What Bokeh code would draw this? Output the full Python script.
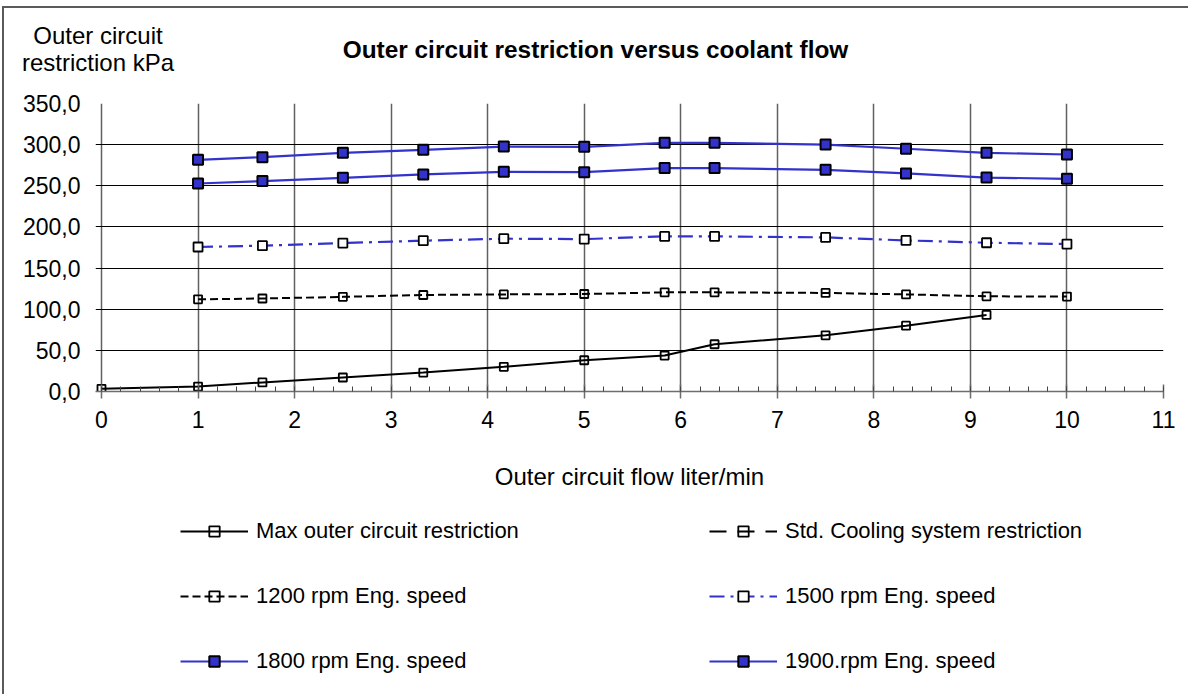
from bokeh.plotting import figure
from bokeh.layouts import column
from bokeh.models import Range1d, FixedTicker, Label, Legend, LegendItem
from bokeh.embed import file_html
from bokeh.resources import INLINE

# ---------------- data ----------------
flow = [0, 1, 1.667, 2.5, 3.333, 4.167, 5, 5.833, 6.35, 7.5, 8.333, 9.167, 10]
max_flow = flow[:12]
rpm_flow = flow[1:]
std_flow = []

max_restriction = [3.2, 6, 11, 17, 23, 30, 38, 43.7, 57.4, 68.3, 80, 93]
std_restriction = []
rpm1200 = [112, 113, 115, 117.3, 118, 118.5, 120.5, 120.5, 119.8, 118, 115.7, 115.3]
rpm1500 = [175.6, 177.2, 180.4, 183.3, 185.7, 185.2, 188.5, 188.5, 187.3, 183.6, 180.8, 179.2]
rpm1800 = [252.8, 255.7, 259.7, 263.8, 267, 266.6, 271.5, 271.5, 269.4, 265, 260, 258.5]
rpm1900 = [281.5, 284.8, 290, 293.7, 297.7, 297.3, 302.2, 302.2, 300.1, 295, 290, 288]

x_ticks = list(range(0, 12))
x_grid_ticks = list(range(0, 11))
y_ticks = [0, 50, 100, 150, 200, 250, 300, 350]
y_tick_labels = ["0,0", "50,0", "100,0", "150,0", "200,0", "250,0", "300,0", "350,0"]

title_text = "Outer circuit restriction versus coolant flow"
ylabel_lines = ["Outer circuit", "restriction kPa"]
xlabel_text = "Outer circuit flow liter/min"
series_names = ["Max outer circuit restriction", "Std. Cooling system restriction",
                "1200 rpm Eng. speed", "1500 rpm Eng. speed",
                "1800 rpm Eng. speed", "1900.rpm Eng. speed"]

# ---------------- styles ----------------
FONT = "Liberation Sans"
BLUE = "#3333CC"
W = 1184
HH = 80      # header
HM = 417     # main plot
HL = 189     # legend strip
X0 = -0.0621

line_styles = [
    dict(line_color="black", line_width=2),
    dict(line_color="black", line_width=2, line_dash="17 11"),
    dict(line_color="black", line_width=2, line_dash="8 4"),
    dict(line_color=BLUE, line_width=2.2, line_dash="15 6 3 6"),
    dict(line_color=BLUE, line_width=2.2),
    dict(line_color=BLUE, line_width=2.2),
]
marker_styles = [
    dict(marker="square", size=8, line_color="black", line_width=1.8, fill_alpha=0),
    dict(marker="square", size=8, line_color="black", line_width=1.8, fill_alpha=0),
    dict(marker="square", size=8, line_color="black", line_width=1.8, fill_alpha=0),
    dict(marker="square", size=9, line_color="black", line_width=1.8, fill_color="white"),
    dict(marker="square", size=10, line_color="black", line_width=2, fill_color=BLUE),
    dict(marker="square", size=10, line_color="black", line_width=2, fill_color=BLUE),
]


def no_align(fig):
    if "frame_align" in fig.properties():
        fig.frame_align = False


# ---------------- header (title + y-axis caption) ----------------
hdr = figure(width=W, height=HH, output_backend="svg", toolbar_location=None, tools="",
             x_range=Range1d(0, W), y_range=Range1d(HH, 0),
             x_axis_location=None, y_axis_location=None,
             min_border_left=0, min_border_right=0, min_border_top=0, min_border_bottom=0)
no_align(hdr)
hdr.grid.visible = False
hdr.outline_line_color = None
hdr.background_fill_color = "white"
hdr.border_fill_color = "white"
hdr.add_layout(Label(x=591, y=41, text=title_text, text_font=FONT,
                     text_font_size="24.4px", text_font_style="bold", text_color="black",
                     text_align="center", text_baseline="middle"))
hdr.add_layout(Label(x=93.5, y=27, text=ylabel_lines[0], text_font=FONT,
                     text_font_size="24px", text_color="black",
                     text_align="center", text_baseline="middle"))
hdr.add_layout(Label(x=93.5, y=53.5, text=ylabel_lines[1], text_font=FONT,
                     text_font_size="24px", text_color="black",
                     text_align="center", text_baseline="middle"))

# ---------------- main figure ----------------
p = figure(width=W, height=HM, output_backend="svg", toolbar_location=None, tools="",
           x_range=Range1d(X0, 11), y_range=Range1d(0, 350),
           min_border_left=91, min_border_right=25, min_border_top=15,
           min_border_bottom=114)
no_align(p)
p.outline_line_color = None
p.background_fill_color = "white"
p.border_fill_color = "white"

p.xaxis.ticker = FixedTicker(ticks=x_ticks, minor_ticks=[t / 5 for t in range(0, 56)])
p.xaxis.axis_line_color = "#6e6e6e"
p.xaxis.axis_line_width = 1.5
p.xaxis.major_tick_line_color = "#6e6e6e"
p.xaxis.major_tick_line_width = 1.5
p.xaxis.major_tick_in = 7
p.xaxis.major_tick_out = 7
p.xaxis.minor_tick_line_color = "#444444"
p.xaxis.minor_tick_in = 5
p.xaxis.minor_tick_out = 0
p.xaxis.major_label_text_font = FONT
p.xaxis.major_label_text_font_size = "23px"
p.xaxis.major_label_text_color = "black"
p.xaxis.major_label_standoff = 12
p.xaxis.axis_label = xlabel_text
p.xaxis.axis_label_text_font = FONT
p.xaxis.axis_label_text_font_size = "24px"
p.xaxis.axis_label_text_font_style = "normal"
p.xaxis.axis_label_text_color = "black"
p.xaxis.axis_label_standoff = 32

p.yaxis.ticker = FixedTicker(ticks=y_ticks)
p.yaxis.major_label_overrides = {t: s for t, s in zip(y_ticks, y_tick_labels)}
p.yaxis.axis_line_color = None
p.yaxis.major_tick_line_color = None
p.yaxis.minor_tick_line_color = None
p.yaxis.major_tick_out = 0
p.yaxis.major_tick_in = 0
p.yaxis.major_label_standoff = 15
p.yaxis.major_label_text_font = FONT
p.yaxis.major_label_text_font_size = "23px"
p.yaxis.major_label_text_color = "black"

p.xgrid.ticker = FixedTicker(ticks=x_grid_ticks)
p.xgrid.grid_line_color = "#606060"
p.xgrid.grid_line_width = 1.5
p.ygrid.ticker = FixedTicker(ticks=y_ticks)
p.ygrid.grid_line_color = "black"
p.ygrid.grid_line_width = 1

series_x = [max_flow, std_flow, rpm_flow, rpm_flow, rpm_flow, rpm_flow]
series_y = [max_restriction, std_restriction, rpm1200, rpm1500, rpm1800, rpm1900]
for xs, ys, ls, ms in zip(series_x, series_y, line_styles, marker_styles):
    p.line(xs, ys, **ls)
    p.scatter(xs, ys, **ms)

# ---------------- legend strip ----------------
# The strip's ranges lie below every value, so its sample renderers stay off-frame;
# they only supply the legend swatches.
lf = figure(width=W, height=HL, output_backend="svg", toolbar_location=None, tools="",
            x_range=Range1d(0, 1), y_range=Range1d(-10, -9),
            x_axis_location=None, y_axis_location=None,
            min_border_left=91, min_border_right=25, min_border_top=0, min_border_bottom=0)
no_align(lf)
lf.grid.visible = False
lf.outline_line_color = None
lf.background_fill_color = "white"
lf.border_fill_color = "white"

items = []
for name, xs, ys, ls, ms in zip(series_names, series_x, series_y, line_styles, marker_styles):
    if len(xs) == 0:          # series without points: borrow a sample for the swatch
        xs, ys = max_flow, max_restriction
    r_line = lf.line(xs, ys, **ls)
    r_mark = lf.scatter(xs, ys, **ms)
    items.append(LegendItem(label=name, renderers=[r_line, r_mark]))


def make_legend(its, loc):
    return Legend(items=its, location=loc, orientation="vertical",
                  border_line_color=None, background_fill_alpha=0,
                  padding=0, margin=0, spacing=39,
                  glyph_width=68, glyph_height=26, label_height=26,
                  label_standoff=8, label_text_font=FONT,
                  label_text_font_size="22px", label_text_color="black")


lf.add_layout(make_legend([items[0], items[2], items[4]], (85, 20)), "center")
lf.add_layout(make_legend([items[1], items[3], items[5]], (614, 20)), "center")

layout = column(hdr, p, lf, spacing=0)
layout.styles = {"border-left": "2px solid #5a5a5a", "border-top": "2px solid #5a5a5a",
                 "margin-left": "2px", "margin-top": "6px"}

open("out.html", "w").write(file_html(layout, INLINE))
